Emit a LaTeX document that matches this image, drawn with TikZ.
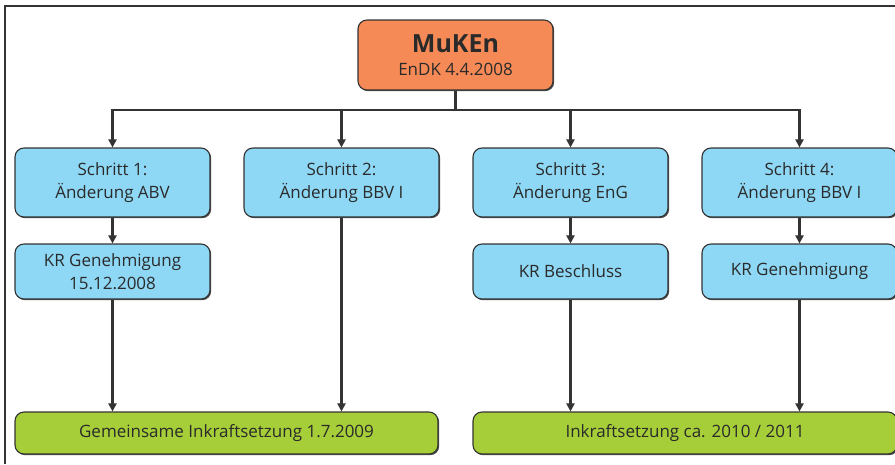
\documentclass[tikz,border=0pt]{standalone}
\usepackage{fontspec}
\setmainfont{Open Sans}
\usetikzlibrary{arrows.meta,shadows}
\definecolor{orangebox}{HTML}{F58A57}
\definecolor{bluebox}{HTML}{8ED8F5}
\definecolor{greenbox}{HTML}{A6CE39}
\definecolor{edge}{HTML}{333333}
\definecolor{txt}{HTML}{2A2A2A}
\begin{document}
\begin{tikzpicture}[x=1pt,y=-1pt,
  box/.style={draw=edge,line width=1.1pt,rounded corners=9pt,align=center,
    inner sep=0pt,text=txt,font=\fontsize{17}{23}\selectfont,
    drop shadow={shadow xshift=1.2pt,shadow yshift=-1.2pt,opacity=0.7,fill=black}},
  bbox/.style={box,fill=bluebox,minimum width=195pt},
  conn/.style={draw=edge,line width=2.4pt,-{Triangle[length=8pt,width=8pt]}},
  plain/.style={draw=edge,line width=2.4pt}]
\useasboundingbox (0,0) rectangle (895,464);
\draw[line width=1.5pt,edge] (5,464) -- (5,6) -- (895,6);
% top
\node[box,fill=orangebox,minimum width=195pt,minimum height=70pt] (top) at (455.5,55)
  {{\fontsize{25}{29}\selectfont\bfseries MuKEn}\\EnDK 4.4.2008};
% row 1
\node[bbox,minimum height=69pt] (s1) at (112.5,182.5) {Schritt 1:\\Änderung ABV};
\node[bbox,minimum height=69pt] (s2) at (341.5,182.5) {Schritt 2:\\Änderung BBV I};
\node[bbox,minimum height=69pt] (s3) at (570.5,182.5) {Schritt 3:\\Änderung EnG};
\node[bbox,minimum height=69pt] (s4) at (799.5,182.5) {Schritt 4:\\Änderung BBV I};
% row 2
\node[bbox,minimum height=55pt] (k1) at (112.5,271.5) {KR Genehmigung\\15.12.2008};
\node[bbox,minimum height=55pt] (k3) at (570.5,271.5) {KR Beschluss};
\node[bbox,minimum height=55pt] (k4) at (799.5,271.5) {KR Genehmigung};
% bottom
\node[box,fill=greenbox,minimum width=423pt,minimum height=42pt] (g1) at (226.5,433) {Gemeinsame Inkraftsetzung 1.7.2009};
\node[box,fill=greenbox,minimum width=424pt,minimum height=42pt] (g2) at (685,433) {Inkraftsetzung ca. 2010 / 2011};
% connectors
\coordinate (bar) at (0,110);
\draw[plain] (top.south) -- (top.south |- bar);
\draw[plain,line cap=rect] (s1.north |- bar) -- (s4.north |- bar);
\foreach \n in {s1,s2,s3,s4} \draw[conn] (\n.north |- bar) -- (\n.north);
\draw[conn] (s1) -- (k1);
\draw[conn] (s3) -- (k3);
\draw[conn] (s4) -- (k4);
\draw[conn] (k1.south) -- (k1.south |- g1.north);
\draw[conn] (s2.south) -- (s2.south |- g1.north);
\draw[conn] (k3.south) -- (k3.south |- g2.north);
\draw[conn] (k4.south) -- (k4.south |- g2.north);
\end{tikzpicture}
\end{document}
